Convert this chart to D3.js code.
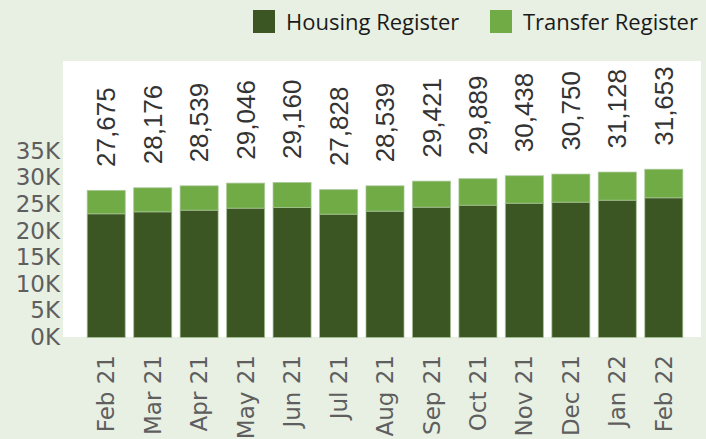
<!DOCTYPE html>
<html>
<head>
<meta charset="utf-8">
<script src="https://cdn.jsdelivr.net/npm/d3@7"></script>
<style>
  body { margin: 0; background: #e8f0e4; }
  svg { display: block; }
</style>
</head>
<body>
<svg width="706" height="439"></svg>
<script>
// Housing vs transfer register, monthly

var months = ["Feb 21", "Mar 21", "Apr 21", "May 21", "Jun 21", "Jul 21", "Aug 21",
              "Sep 21", "Oct 21", "Nov 21", "Dec 21", "Jan 22", "Feb 22"];
var housing = [23280, 23650, 23960, 24340, 24460, 23200, 23770, 24520, 24900, 25270, 25460, 25840, 26290];
var transfer = [4395, 4526, 4579, 4706, 4700, 4628, 4769, 4901, 4989, 5168, 5290, 5288, 5363];
var series = ["Housing Register", "Transfer Register"];
var yTicks = [0, 5000, 10000, 15000, 20000, 25000, 30000, 35000];

var svg = d3.select("svg"),
    width = +svg.attr("width"),
    height = +svg.attr("height");

var color = d3.scaleOrdinal(series, ["#3b5623", "#70ab46"]);

var x = d3.scaleBand()
    .domain(months)
    .range([83, 687])
    .paddingInner(0.16)
    .paddingOuter(0.08);

var y = d3.scaleLinear()
    .domain([0, 35000])
    .range([337, 151]);

var data = months.map(function(m, i) {
  return { month: m, "Housing Register": housing[i], "Transfer Register": transfer[i] };
});
var stacked = d3.stack().keys(series)(data);

// white plot panel
svg.append("rect")
    .attr("x", 63).attr("y", 61)
    .attr("width", 638).attr("height", y(0) - 61)
    .attr("fill", "#fff");

var layer = svg.selectAll(".layer")
  .data(stacked)
  .enter().append("g")
    .attr("class", "layer")
    .attr("fill", function(d) { return color(d.key); });

layer.selectAll("rect")
  .data(function(d) { return d; })
  .enter().append("rect")
    .attr("x", function(d) { return x(d.data.month) + 0.5; })
    .attr("y", function(d) { return y(d[1]) + 0.5; })
    .attr("width", x.bandwidth() - 1)
    .attr("height", function(d) { return y(d[0]) - y(d[1]); })
    .attr("stroke", "#a6c596")
    .attr("stroke-opacity", 0.7)
    .attr("stroke-width", 1);

// totals above bars
svg.selectAll(".total")
  .data(data)
  .enter().append("text")
    .attr("class", "total")
    .attr("transform", function(d) {
      return "translate(" + (x(d.month) + x.bandwidth() / 2) + "," +
        (y(d["Housing Register"] + d["Transfer Register"]) - 23) + ") rotate(-90)";
    })
    .attr("dy", "0.35em")
    .attr("font-family", "Liberation Sans, Arial, sans-serif")
    .attr("font-size", 26)
    .attr("fill", "#333")
    .text(function(d) { return d3.format(",")(d["Housing Register"] + d["Transfer Register"]); });

// y axis
var yAxis = svg.append("g")
    .attr("transform", "translate(63,0)")
    .call(d3.axisLeft(y).tickValues(yTicks).tickSize(0).tickPadding(3)
      .tickFormat(function(d) { return d / 1000 + "K"; }));
yAxis.select(".domain").remove();
yAxis.selectAll("text")
    .style("font-family", "'DejaVu Sans', sans-serif")
    .style("font-size", "23px")
    .attr("fill", "#5e5e5e");

// x axis
var xAxis = svg.append("g")
    .attr("transform", "translate(0," + y(0) + ")")
    .call(d3.axisBottom(x).tickSize(0));
xAxis.select(".domain").remove();
xAxis.selectAll("text")
    .style("font-family", "'DejaVu Sans', sans-serif")
    .style("font-size", "23px")
    .attr("fill", "#5e5e5e")
    .attr("text-anchor", "end")
    .attr("transform", "translate(0,18) rotate(-90)")
    .attr("x", 0)
    .attr("y", 0)
    .attr("dy", "0.35em");

// legend
var legendX = [253, 490];
var legend = svg.selectAll(".legend")
  .data(series)
  .enter().append("g")
    .attr("class", "legend")
    .attr("transform", function(d, i) { return "translate(" + legendX[i] + ",10)"; });

legend.append("rect")
    .attr("width", 22).attr("height", 23)
    .attr("fill", function(d) { return color(d); });

legend.append("text")
    .attr("x", 33).attr("y", 12)
    .attr("dy", "0.35em")
    .attr("font-family", "Open Sans, sans-serif")
    .attr("font-size", 22)
    .attr("fill", "#1a1a1a")
    .text(function(d) { return d; });
</script>
</body>
</html>
